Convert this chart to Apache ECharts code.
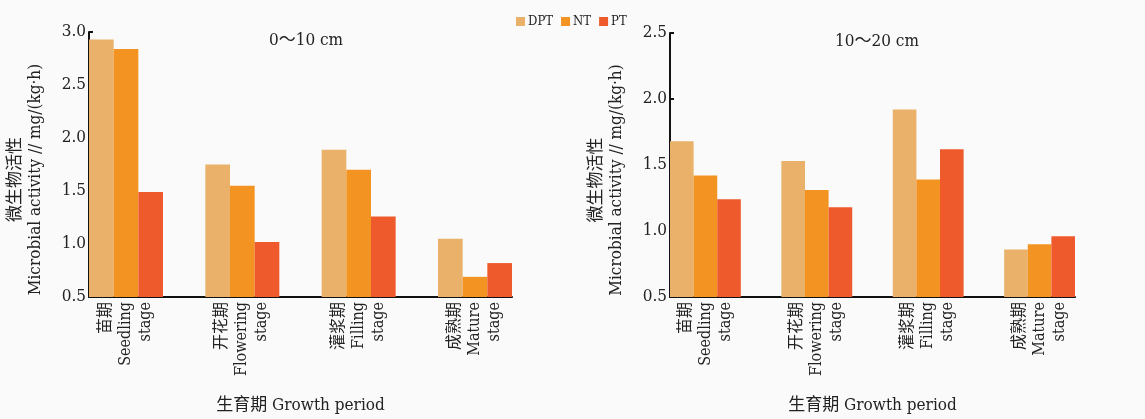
<!DOCTYPE html>
<html>
<head>
<meta charset="utf-8">
<script src="https://cdn.jsdelivr.net/npm/echarts@6/dist/echarts.min.js"></script>
<style>
  html, body { margin: 0; padding: 0; background: #fafafa; }
  #chart { width: 1145px; height: 419px; }
</style>
</head>
<body>
<div id="chart"></div>
<script>
var stageCn = ['苗期', '开花期', '灌浆期', '成熟期'];
var stageEn = ['Seedling', 'Flowering', 'Filling', 'Mature'];
var treatments = ['DPT', 'NT', 'PT'];
var colors = ['#e9b16a', '#f39322', '#ef5a2c'];

// 0~10 cm
var topDPT = [2.93, 1.75, 1.89, 1.05];
var topNT = [2.84, 1.55, 1.70, 0.69];
var topPT = [1.49, 1.02, 1.26, 0.82];
// 10~20 cm
var subDPT = [1.68, 1.53, 1.92, 0.86];
var subNT = [1.42, 1.31, 1.39, 0.90];
var subPT = [1.24, 1.18, 1.62, 0.96];

var yTicksLeft = [0.5, 1.0, 1.5, 2.0, 2.5, 3.0];
var yTicksRight = [0.5, 1.0, 1.5, 2.0, 2.5];

(function () {
    var myChart = echarts.init(document.getElementById('chart'));
    var font = "'DejaVu Serif Condensed', 'Noto Sans CJK SC', serif";
    var pad = 0.318;

    function pairs(arr) {
        return arr.map(function (v, i) { return [i, v]; });
    }

    function makeX(idx) {
        return {
            type: 'value',
            gridIndex: idx,
            min: -pad,
            max: stageCn.length - 1 + pad,
            splitLine: { show: false },
            axisTick: { show: false },
            axisLine: { onZero: false, lineStyle: { color: '#111', width: 2 } },
            axisLabel: {
                customValues: [0, 1, 2, 3],
                rotate: 90,
                margin: 5,
                color: '#222',
                fontFamily: font,
                fontSize: 16,
                lineHeight: 20,
                formatter: function (v) {
                    var i = Math.round(v);
                    return stageCn[i] + '\n' + stageEn[i] + '\nstage';
                }
            },
            name: '生育期 Growth period',
            nameLocation: 'middle',
            nameGap: 100,
            nameTextStyle: { color: '#222', fontFamily: font, fontSize: 17 }
        };
    }

    function makeY(idx, ticks) {
        return {
            type: 'value',
            gridIndex: idx,
            min: ticks[0],
            max: ticks[ticks.length - 1],
            interval: 0.5,
            splitLine: { show: false },
            axisLine: { show: true, onZero: false, lineStyle: { color: '#111', width: 2 } },
            axisTick: { show: true, inside: true, length: 4, lineStyle: { color: '#111', width: 2 } },
            axisLabel: {
                margin: 3,
                color: '#222',
                fontFamily: font,
                fontSize: 17,
                formatter: function (v) { return v.toFixed(1); }
            },
            name: '微生物活性\nMicrobial activity // mg/(kg·h)',
            nameLocation: 'middle',
            nameGap: 43,
            nameTextStyle: {
                color: '#222', fontFamily: font, fontSize: 17, lineHeight: 20,
                padding: [0, 30, 0, 0]
            }
        };
    }

    function makeSeries(idx, data, name, color) {
        return {
            name: name,
            type: 'bar',
            xAxisIndex: idx,
            yAxisIndex: idx,
            barGap: '0%',
            barCategoryGap: '36.4%',
            itemStyle: { color: color },
            data: pairs(data)
        };
    }

    var option = {
        backgroundColor: '#fafafa',
        animation: false,
        title: [
            { text: '0～10 cm', left: 301, top: 27, textAlign: 'center',
              textStyle: { fontFamily: font, fontSize: 17, fontWeight: 'normal', color: '#222' } },
            { text: '10～20 cm', left: 872, top: 28, textAlign: 'center',
              textStyle: { fontFamily: font, fontSize: 17, fontWeight: 'normal', color: '#222' } }
        ],
        legend: {
            data: treatments,
            left: 511,
            top: 10,
            itemWidth: 9,
            itemHeight: 9,
            itemGap: 8,
            icon: 'rect',
            textStyle: { fontFamily: font, fontSize: 13, color: '#222', padding: [0, 0, 0, -2] }
        },
        grid: [
            { left: 89, right: 633, top: 32, bottom: 120 },
            { left: 670, right: 70, top: 33, bottom: 120 }
        ],
        xAxis: [makeX(0), makeX(1)],
        yAxis: [makeY(0, yTicksLeft), makeY(1, yTicksRight)],
        series: [
            makeSeries(0, topDPT, treatments[0], colors[0]),
            makeSeries(0, topNT, treatments[1], colors[1]),
            makeSeries(0, topPT, treatments[2], colors[2]),
            makeSeries(1, subDPT, treatments[0], colors[0]),
            makeSeries(1, subNT, treatments[1], colors[1]),
            makeSeries(1, subPT, treatments[2], colors[2])
        ]
    };

    myChart.setOption(option);
    window.addEventListener('resize', function () {
        myChart.resize();
    });
})();
</script>
</body>
</html>
